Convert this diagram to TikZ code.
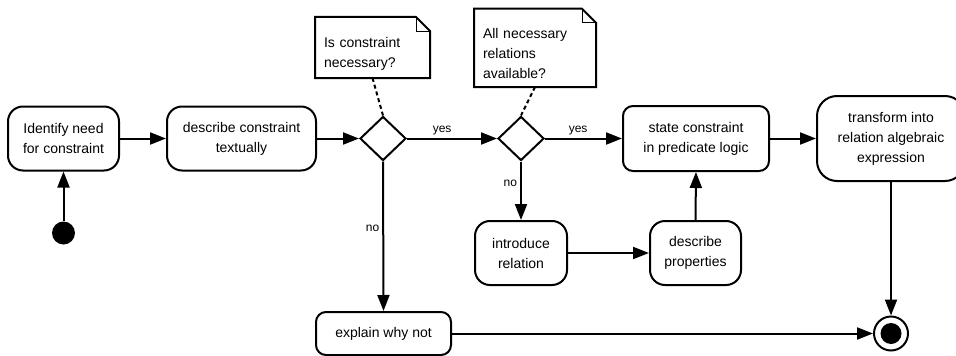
\documentclass[tikz,border=0pt]{standalone}
\usepackage{fontspec}
\setmainfont{Liberation Sans}
\usetikzlibrary{arrows.meta,shapes.geometric,calc}
\begin{document}
\begin{tikzpicture}[x=1pt,y=-1pt,
  every node/.style={font=\fontsize{14}{20}\selectfont},
  act/.style={draw,line width=2pt,align=center,inner sep=0pt,rounded corners=#1},
  act/.default=15pt,
  decision/.style={draw,diamond,line width=2pt,minimum width=46pt,minimum height=44pt,inner sep=0pt},
  flow/.style={line width=2pt,-{Triangle[length=16pt,width=12pt]}},
  guard/.style={font=\fontsize{12}{14}\selectfont,inner sep=3pt},
  notetext/.style={align=left,text width=#1,inner xsep=9pt,inner ysep=8pt,outer sep=0pt,anchor=south west},
  noteline/.style={draw,line width=2pt,line join=miter},
  anchorline/.style={line width=2pt,dash pattern=on 4pt off 3pt}
]
\useasboundingbox (0,0) rectangle (956,356);

% activities
\node[act,minimum width=111pt,minimum height=64pt] (idn) at (63.5,138.5) {Identify need\\for constraint};
\node[act,minimum width=149pt,minimum height=64pt] (desc) at (241.5,138.5) {describe constraint\\textually};
\node[decision] (d1) at (383,138.5) {};
\node[decision] (d2) at (521,138.5) {};
\node[act=10pt,minimum width=146pt,minimum height=65pt] (state) at (696,138.5) {state constraint\\in predicate logic};
\node[act=20pt,minimum width=148pt,minimum height=85pt] (trans) at (891,138.5) {transform into\\relation algebraic\\expression};
\node[act,minimum width=92pt,minimum height=64pt] (intro) at (521,253) {introduce\\relation};
\node[act,minimum width=91pt,minimum height=64pt] (props) at (695.5,253) {describe\\properties};
\node[act=10pt,minimum width=135pt,minimum height=43pt] (expl) at (383.5,333.5) {explain why not};

% initial and final states
\node[fill,circle,minimum size=23pt,inner sep=0pt] (start) at (63.5,233) {};
\node[draw,circle,line width=2pt,minimum size=34pt,inner sep=0pt] (fin) at (891,333.5) {};
\node[fill,circle,minimum size=21pt,inner sep=0pt] (fincore) at (fin.center) {};

% notes with folded corner
\node[notetext=97pt] (n1) at (315,78) {Is constraint\\necessary?};
\node[notetext=104pt] (n2) at (474,87) {All necessary\\relations\\available?};
\foreach \n in {n1,n2}{
  \draw[noteline] (\n.south west) -- ($(\n.north west)+(0pt,12pt)$)
    -- ($(\n.north east)+(-14pt,12pt)$) -- ($(\n.north east)+(0pt,-2pt)$)
    -- (\n.south east) -- cycle;
  \draw[line width=0.8pt] ($(\n.north east)+(-14pt,12pt)$) -- ($(\n.north east)+(-14pt,-2pt)$)
    -- ($(\n.north east)+(0pt,-2pt)$);
}
\draw[anchorline] (n1.south) -- (d1.north);
\draw[anchorline] (n2.south) -- (d2.north);

% control flow
\draw[flow] (start) -- (idn.south);
\draw[flow] (idn) -- (desc);
\draw[flow] (desc) -- (d1.west);
\draw[flow] (d1.east) -- node[guard,above,pos=0.39] {yes} (d2.west);
\draw[flow] (d2.east) -- node[guard,above,pos=0.43] {yes} (state.west);
\draw[flow] (state) -- (trans);
\draw[flow] (d1.south) -- node[guard,left,pos=0.45] {no} (expl.north);
\draw[flow] (d2.south) -- node[guard,left,pos=0.37] {no} (intro.north);
\draw[flow] (intro) -- (props);
\draw[flow] (props.north) -- (state.south);
\draw[flow] (trans.south) -- (fin.north);
\draw[flow] (expl.east) -- (fin.west);
\end{tikzpicture}
\end{document}
